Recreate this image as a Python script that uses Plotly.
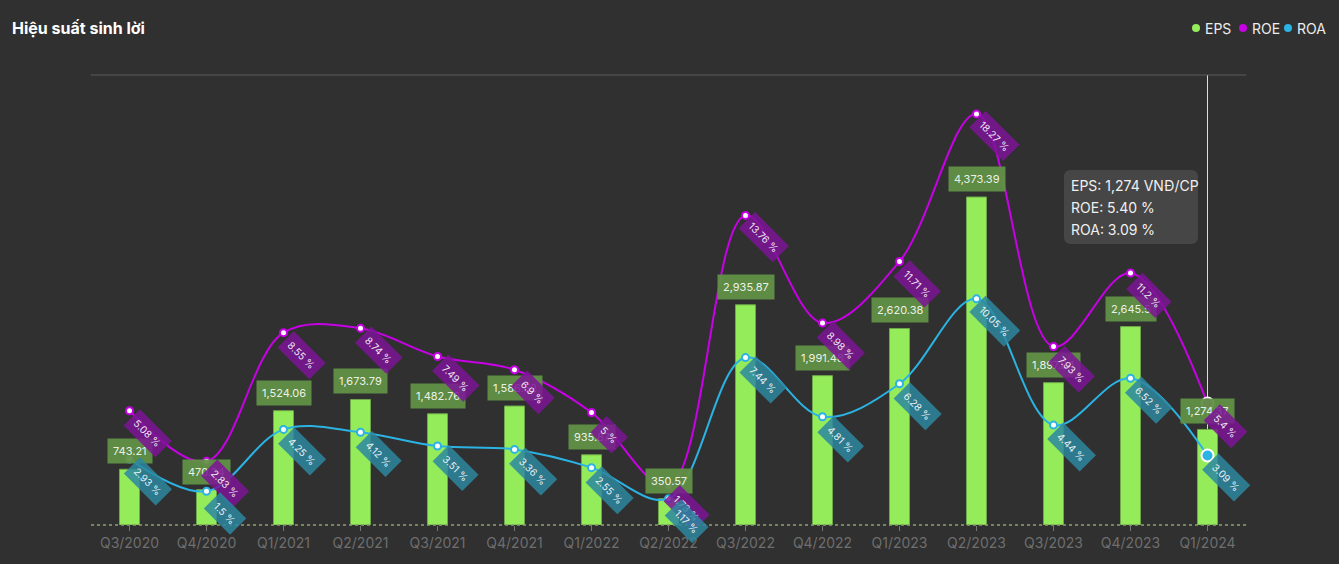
import plotly.graph_objects as go

categories = ["Q3/2020", "Q4/2020", "Q1/2021", "Q2/2021", "Q3/2021", "Q4/2021", "Q1/2022",
              "Q2/2022", "Q3/2022", "Q4/2022", "Q1/2023", "Q2/2023", "Q3/2023", "Q4/2023", "Q1/2024"]
eps = [743.21, 470.34, 1524.06, 1673.79, 1482.76, 1586.52, 935.87, 350.57, 2935.87, 1991.48,
       2620.38, 4373.39, 1897.84, 2645.5, 1274.37]
roe = [5.08, 2.83, 8.55, 8.74, 7.49, 6.9, 5, 1.73, 13.76, 8.98, 11.71, 18.27, 7.93, 11.2, 5.4]
roa = [2.93, 1.5, 4.25, 4.12, 3.51, 3.36, 2.55, 1.17, 7.44, 4.81, 6.28, 10.05, 4.44, 6.52, 3.09]

BG = "#303030"
C_EPS = "#95EC5B"
C_ROE = "#C800E6"
C_ROA = "#2BB3E3"

W, H = 1339, 564
ML, MR, MT, MB = 91, 93, 75, 39
PW = W - ML - MR
PH = H - MT - MB


def px2paper(x, y):
    return (x - ML) / PW, (H - MB - y) / PH


def rounded_rect(x0, y0, x1, y1, r):
    # pixel box -> SVG path in paper coordinates
    def p(x, y):
        a, b = px2paper(x, y)
        return f"{a:.5f},{b:.5f}"
    return (f"M {p(x0 + r, y0)} L {p(x1 - r, y0)} Q {p(x1, y0)} {p(x1, y0 + r)} "
            f"L {p(x1, y1 - r)} Q {p(x1, y1)} {p(x1 - r, y1)} L {p(x0 + r, y1)} "
            f"Q {p(x0, y1)} {p(x0, y1 - r)} L {p(x0, y0 + r)} Q {p(x0, y0)} {p(x0 + r, y0)} Z")


def fmt_eps(v):
    s = f"{v:,.2f}"
    if "." in s:
        s = s.rstrip("0").rstrip(".")
    return s


def fmt_pct(v):
    return f"{v:g} %"


FONT = "Inter, Roboto, sans-serif"
fig = go.Figure()

fig.add_trace(go.Bar(
    x=categories, y=eps, name="EPS", marker=dict(color=C_EPS, line=dict(color="#6FA84A", width=1)),
    width=0.26, yaxis="y", showlegend=False, hoverinfo="skip"))

fig.add_trace(go.Scatter(
    x=categories, y=roe, name="ROE", yaxis="y2", mode="lines+markers",
    line=dict(color=C_ROE, width=2, shape="spline", smoothing=1),
    marker=dict(color="white", size=7, line=dict(color=C_ROE, width=2)),
    showlegend=False, hoverinfo="skip"))

fig.add_trace(go.Scatter(
    x=categories, y=roa, name="ROA", yaxis="y2", mode="lines+markers",
    line=dict(color=C_ROA, width=2, shape="spline", smoothing=1),
    marker=dict(color="white", size=7, line=dict(color=C_ROA, width=2)),
    showlegend=False, hoverinfo="skip"))

# hovered point highlight (last quarter)
fig.add_trace(go.Scatter(
    x=[categories[-1]], y=[roe[-1]], yaxis="y2", mode="markers",
    marker=dict(color=C_ROE, size=12, line=dict(color="white", width=2)),
    showlegend=False, hoverinfo="skip"))
fig.add_trace(go.Scatter(
    x=[categories[-1]], y=[roa[-1]], yaxis="y2", mode="markers",
    marker=dict(color=C_ROA, size=12, line=dict(color="white", width=2)),
    showlegend=False, hoverinfo="skip"))

annotations = []
for c, v in zip(categories, eps):
    annotations.append(dict(
        x=c, y=v, xref="x", yref="y", text=fmt_eps(v), showarrow=False, yshift=18,
        bgcolor="rgba(98,145,70,0.95)", borderpad=5,
        font=dict(family=FONT, size=11, color="rgba(255,255,255,0.9)")))
for c, v in zip(categories, roe):
    annotations.append(dict(
        x=c, y=v, xref="x", yref="y2", text=fmt_pct(v), showarrow=False, xshift=18, yshift=-22,
        textangle=45, bgcolor="rgba(125,20,150,0.85)", borderpad=5,
        font=dict(family=FONT, size=10, color="rgba(255,255,255,0.9)")))
for c, v in zip(categories, roa):
    annotations.append(dict(
        x=c, y=v, xref="x", yref="y2", text=fmt_pct(v), showarrow=False, xshift=18, yshift=-22,
        textangle=45, bgcolor="rgba(45,135,160,0.85)", borderpad=5,
        font=dict(family=FONT, size=10, color="rgba(255,255,255,0.9)")))

# legend (manual)
legend_items = [("EPS", C_EPS, 1196), ("ROE", C_ROE, 1243), ("ROA", C_ROA, 1288)]
shapes = []
for name, col, cx in legend_items:
    x0, y0 = px2paper(cx - 4, 32)
    x1, y1 = px2paper(cx + 4, 24)
    shapes.append(dict(type="circle", xref="paper", yref="paper", x0=x0, y0=y0, x1=x1, y1=y1,
                       fillcolor=col, line=dict(width=0)))
    tx, ty = px2paper(cx + 7, 28)
    annotations.append(dict(x=tx, y=ty, xref="paper", yref="paper", text=name, showarrow=False,
                            xanchor="left", yanchor="middle",
                            font=dict(family=FONT, size=14, color="#EDEDED")))

# title
tx, ty = px2paper(10, 28)
annotations.append(dict(x=tx, y=ty, xref="paper", yref="paper", text="<b>Hiệu suất sinh lời</b>",
                        showarrow=False, xanchor="left", yanchor="middle",
                        font=dict(family=FONT, size=16, color="white")))

# top grid line and baseline
shapes.append(dict(type="line", xref="paper", yref="paper", x0=0, x1=1, y0=1, y1=1,
                   line=dict(color="#5A5A5A", width=1)))
shapes.append(dict(type="line", xref="paper", yref="paper", x0=0, x1=1, y0=0, y1=0,
                   line=dict(color="#8FA070", width=1.5, dash="dot")))
# crosshair on hovered category
shapes.append(dict(type="line", xref="x", yref="paper", x0=len(categories) - 1, x1=len(categories) - 1,
                   y0=0, y1=1, line=dict(color="#DDDDDD", width=1), layer="below"))

# tooltip
shapes.append(dict(type="path", xref="paper", yref="paper", path=rounded_rect(1064, 170, 1198, 244, 7),
                   fillcolor="rgba(72,72,72,0.95)", line=dict(width=0)))
tip_lines = [f"EPS: {eps[-1]:,.0f} VNĐ/CP", f"ROE: {roe[-1]:.2f} %", f"ROA: {roa[-1]:.2f} %"]
for i, t in enumerate(tip_lines):
    ax_, ay_ = px2paper(1069, 185 + i * 22)
    annotations.append(dict(x=ax_, y=ay_, xref="paper", yref="paper", text=t, showarrow=False,
                            xanchor="left", yanchor="middle",
                            font=dict(family=FONT, size=14, color="#F0F0F0")))

fig.update_layout(
    width=W, height=H,
    paper_bgcolor=BG, plot_bgcolor=BG,
    margin=dict(l=ML, r=MR, t=MT, b=MB),
    showlegend=False,
    xaxis=dict(type="category", range=[-0.5, len(categories) - 0.5], autorange=False,
               showgrid=False, zeroline=False, showline=False,
               ticks="outside", ticklen=5, tickcolor="#777777",
               tickfont=dict(family=FONT, size=14, color="#6E6E6E")),
    yaxis=dict(range=[0, 6000], visible=False, showgrid=False),
    yaxis2=dict(range=[0, 20], visible=False, showgrid=False, overlaying="y", side="right"),
    annotations=annotations,
    shapes=shapes,
)

fig.write_html("out.html")
